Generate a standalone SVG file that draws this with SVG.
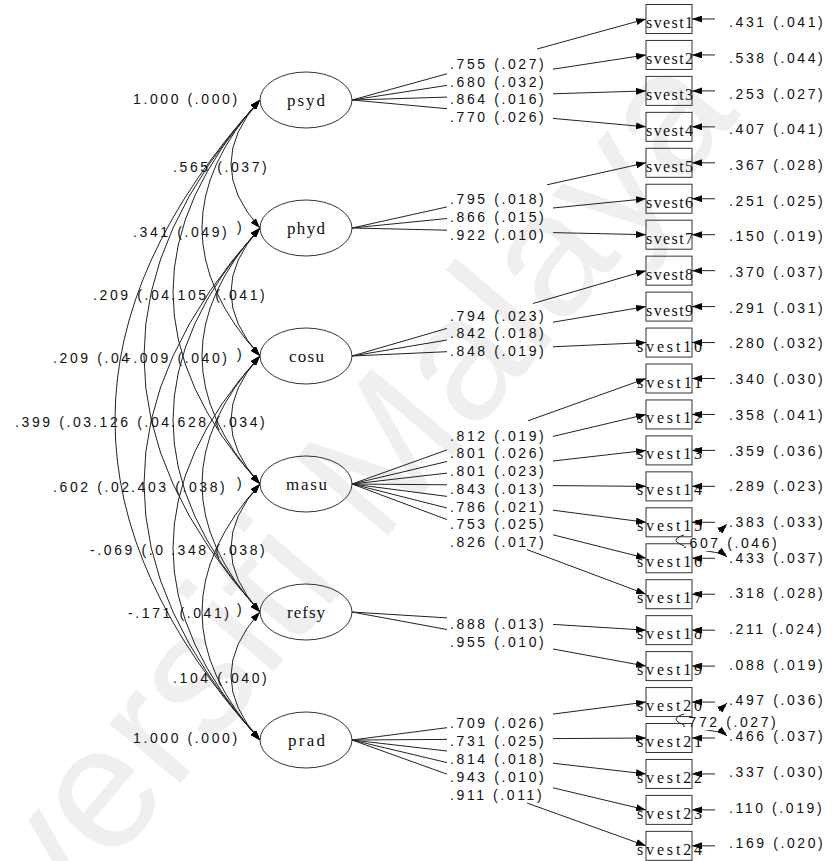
<svg xmlns="http://www.w3.org/2000/svg" width="834" height="861" viewBox="0 0 834 861">
<style>
.n{font-family:"Liberation Sans",Arial,sans-serif;font-size:14px;letter-spacing:2.6px;fill:#111}
.v{font-family:"Liberation Serif","Times New Roman",serif;font-size:16px;fill:#111}
.f{font-family:"Liberation Serif","Times New Roman",serif;font-size:17px;fill:#111}
.b{fill:none;stroke:#333;stroke-width:1}
.el{fill:none;stroke:#333;stroke-width:1}
.e{fill:none;stroke:#222;stroke-width:1}
.a{marker-end:url(#ah)}
.aa{marker-start:url(#ah);marker-end:url(#ah)}
.wm{font-family:"Liberation Sans",Arial,sans-serif;font-size:175px;fill:#efefef}
</style>
<defs>
<marker id="ah" viewBox="0 0 10 7" refX="10" refY="3.5" markerWidth="10" markerHeight="7" markerUnits="userSpaceOnUse" orient="auto-start-reverse"><path d="M0,0 L10,3.5 L0,7 z" fill="#000"/></marker>
</defs>
<rect width="834" height="861" fill="#fff"/>
<text class="wm" transform="translate(-115,1135) rotate(-50)">Universiti Malaya</text>

<g id="connectors">
<g id="covariances" class="e">
<path class="aa" d="M260,100 Q202,164 260,228"/>
<path class="aa" d="M260,100 Q144,228 260,356"/>
<path class="aa" d="M260,100 Q86,292 260,484"/>
<path class="aa" d="M260,100 Q28,356 260,612"/>
<path class="aa" d="M260,100 Q-30,420 260,740"/>
<path class="aa" d="M260,228 Q202,292 260,356"/>
<path class="aa" d="M260,228 Q144,356 260,484"/>
<path class="aa" d="M260,228 Q86,420 260,612"/>
<path class="aa" d="M260,228 Q28,484 260,740"/>
<path class="aa" d="M260,356 Q202,420 260,484"/>
<path class="aa" d="M260,356 Q144,484 260,612"/>
<path class="aa" d="M260,356 Q86,548 260,740"/>
<path class="aa" d="M260,484 Q202,548 260,612"/>
<path class="aa" d="M260,484 Q144,612 260,740"/>
<path class="aa" d="M260,612 Q202,676 260,740"/>
</g>
<g id="loadings" class="e">
<path d="M352,100 L447,73.8"/><path class="a" d="M537,49 L646,19"/>
<path d="M352,100 L447,85.4"/><path class="a" d="M553,69.2 L646,54.95"/>
<path d="M352,100 L447,97.1"/><path class="a" d="M553,93.8 L646,90.9"/>
<path d="M352,100 L447,108.7"/><path class="a" d="M553,118.4 L646,126.85"/>
<path d="M352,228 L447,206.9"/><path class="a" d="M547,184.8 L646,162.8"/>
<path d="M352,228 L447,218.5"/><path class="a" d="M553,208 L646,198.75"/>
<path d="M352,228 L447,230.2"/><path class="a" d="M553,232.6 L646,234.7"/>
<path d="M352,356 L447,328.4"/><path class="a" d="M533,303.5 L646,270.65"/>
<path d="M352,356 L447,340"/><path class="a" d="M553,322.2 L646,306.6"/>
<path d="M352,356 L447,351.7"/><path class="a" d="M553,346.8 L646,342.55"/>
<path d="M352,484 L447,449.9"/><path class="a" d="M528,420.8 L646,378.5"/>
<path d="M352,484 L447,461.5"/><path class="a" d="M553,436.4 L646,414.45"/>
<path d="M352,484 L447,473.1"/><path class="a" d="M553,461 L646,450.4"/>
<path d="M352,484 L447,484.8"/><path class="a" d="M553,485.6 L646,486.35"/>
<path d="M352,484 L447,496.4"/><path class="a" d="M553,510.2 L646,522.3"/>
<path d="M352,484 L447,508"/><path class="a" d="M553,534.8 L646,558.25"/>
<path d="M352,484 L447,519.6"/><path class="a" d="M527,549.6 L646,594.2"/>
<path d="M352,612 L447,617.9"/><path class="a" d="M553,624.4 L646,630.15"/>
<path d="M352,612 L447,629.5"/><path class="a" d="M553,649 L646,666.1"/>
<path d="M352,740 L447,727.7"/><path class="a" d="M553,714.1 L646,702.05"/>
<path d="M352,740 L447,739.4"/><path class="a" d="M553,738.6 L646,738"/>
<path d="M352,740 L447,751"/><path class="a" d="M553,763.2 L646,773.95"/>
<path d="M352,740 L447,762.6"/><path class="a" d="M553,787.8 L646,809.9"/>
<path d="M352,740 L447,774.2"/><path class="a" d="M527,803 L646,845.85"/>
</g>
<g id="residuals" class="e">
<path class="a" d="M715,19 H692"/>
<path class="a" d="M715,54.95 H692"/>
<path class="a" d="M715,90.9 H692"/>
<path class="a" d="M715,126.85 H692"/>
<path class="a" d="M715,162.8 H692"/>
<path class="a" d="M715,198.75 H692"/>
<path class="a" d="M715,234.7 H692"/>
<path class="a" d="M715,270.65 H692"/>
<path class="a" d="M715,306.6 H692"/>
<path class="a" d="M715,342.55 H692"/>
<path class="a" d="M715,378.5 H692"/>
<path class="a" d="M715,414.45 H692"/>
<path class="a" d="M715,450.4 H692"/>
<path class="a" d="M715,486.35 H692"/>
<path class="a" d="M715,522.3 H692"/>
<path class="a" d="M715,558.25 H692"/>
<path class="a" d="M715,594.2 H692"/>
<path class="a" d="M715,630.15 H692"/>
<path class="a" d="M715,666.1 H692"/>
<path class="a" d="M715,702.05 H692"/>
<path class="a" d="M715,738 H692"/>
<path class="a" d="M715,773.95 H692"/>
<path class="a" d="M715,809.9 H692"/>
<path class="a" d="M715,845.85 H692"/>
</g>
<g id="residual-covariances" class="e">
<path d="M726,527 Q626,540 726,554"/>
<rect x="684" y="528" width="95" height="23" fill="#fff" stroke="none"/>
<path class="a" d="M719,532 L727,524"/>
<path class="a" d="M719,550 L727,557"/>
<path d="M726,706 Q626,719 726,733"/>
<rect x="684" y="707" width="95" height="23" fill="#fff" stroke="none"/>
<path class="a" d="M719,711 L727,703"/>
<path class="a" d="M719,729 L727,736"/>
</g>
</g>

<g id="labels">
<g id="factor-labels" class="n">
<text x="133" y="104">1.000 (.000)</text>
<text x="173" y="172">.565 (.037)</text>
<text x="133" y="237">.341 (.049)</text><text x="237" y="232">)</text>
<text x="93" y="300">.209 (.04</text><text x="171" y="300">.105 (.041)</text>
<text x="53" y="363">.209 (.04</text><text x="126" y="363">-.009 (.040)</text><text x="237" y="359">)</text>
<text x="15" y="427">.399 (.03</text><text x="93" y="427">.126 (.04</text><text x="171" y="427">.628 (.034)</text>
<text x="53" y="492">.602 (.02</text><text x="131" y="492">.403 (.038)</text><text x="237" y="488">)</text>
<text x="90" y="555">-.069 (.0</text><text x="171" y="555">.348 (.038)</text>
<text x="128" y="618">-.171 (.041)</text><text x="237" y="614">)</text>
<text x="173" y="683">.104 (.040)</text>
<text x="133" y="743">1.000 (.000)</text>
</g>
<g id="loading-labels" class="n">
<text x="450" y="68.7">.755 (.027)</text>
<text x="450" y="86.5">.680 (.032)</text>
<text x="450" y="104.3">.864 (.016)</text>
<text x="450" y="122.1">.770 (.026)</text>
<text x="450" y="204.3">.795 (.018)</text>
<text x="450" y="222.1">.866 (.015)</text>
<text x="450" y="239.9">.922 (.010)</text>
<text x="450" y="320.6">.794 (.023)</text>
<text x="450" y="338.4">.842 (.018)</text>
<text x="450" y="356.2">.848 (.019)</text>
<text x="450" y="440.6">.812 (.019)</text>
<text x="450" y="458.3">.801 (.026)</text>
<text x="450" y="476.1">.801 (.023)</text>
<text x="450" y="493.8">.843 (.013)</text>
<text x="450" y="511.6">.786 (.021)</text>
<text x="450" y="529.3">.753 (.025)</text>
<text x="450" y="547.1">.826 (.017)</text>
<text x="450" y="628.9">.888 (.013)</text>
<text x="450" y="646.7">.955 (.010)</text>
<text x="450" y="728.1">.709 (.026)</text>
<text x="450" y="746.1">.731 (.025)</text>
<text x="450" y="764.1">.814 (.018)</text>
<text x="450" y="782.1">.943 (.010)</text>
<text x="450" y="800.1">.911 (.011)</text>
</g>
<g id="residual-labels" class="n">
<text x="729" y="27.1">.431 (.041)</text>
<text x="729" y="62.8">.538 (.044)</text>
<text x="729" y="98.5">.253 (.027)</text>
<text x="729" y="134.2">.407 (.041)</text>
<text x="729" y="169.9">.367 (.028)</text>
<text x="729" y="205.6">.251 (.025)</text>
<text x="729" y="241.3">.150 (.019)</text>
<text x="729" y="277">.370 (.037)</text>
<text x="729" y="312.7">.291 (.031)</text>
<text x="729" y="348.4">.280 (.032)</text>
<text x="729" y="384.1">.340 (.030)</text>
<text x="729" y="419.8">.358 (.041)</text>
<text x="729" y="455.5">.359 (.036)</text>
<text x="729" y="491.2">.289 (.023)</text>
<text x="729" y="526.9">.383 (.033)</text>
<text x="729" y="562.6">.433 (.037)</text>
<text x="729" y="598.3">.318 (.028)</text>
<text x="729" y="634">.211 (.024)</text>
<text x="729" y="669.7">.088 (.019)</text>
<text x="729" y="705.4">.497 (.036)</text>
<text x="729" y="741.1">.466 (.037)</text>
<text x="729" y="776.8">.337 (.030)</text>
<text x="729" y="812.5">.110 (.019)</text>
<text x="729" y="848.2">.169 (.020)</text>
<text x="683" y="547.6">.607 (.046)</text>
<text x="682" y="726.6">.772 (.027)</text>
</g>
</g>

<g id="psyd"><ellipse class="el" cx="306" cy="100" rx="46" ry="28"/><text class="f" x="287" y="106" textLength="38" lengthAdjust="spacing">psyd</text></g>
<g id="phyd"><ellipse class="el" cx="306" cy="228" rx="46" ry="28"/><text class="f" x="287" y="234" textLength="38" lengthAdjust="spacing">phyd</text></g>
<g id="cosu"><ellipse class="el" cx="306" cy="356" rx="46" ry="28"/><text class="f" x="289" y="362" textLength="35" lengthAdjust="spacing">cosu</text></g>
<g id="masu"><ellipse class="el" cx="306" cy="484" rx="46" ry="28"/><text class="f" x="286" y="490" textLength="41" lengthAdjust="spacing">masu</text></g>
<g id="refsy"><ellipse class="el" cx="306" cy="612" rx="46" ry="28"/><text class="f" x="287" y="618" textLength="38" lengthAdjust="spacing">refsy</text></g>
<g id="prad"><ellipse class="el" cx="306" cy="740" rx="46" ry="28"/><text class="f" x="288" y="746" textLength="37" lengthAdjust="spacing">prad</text></g>

<g id="svest1"><rect class="b" x="646" y="4.5" width="46" height="29"/><text class="v" x="646" y="28" textLength="47" lengthAdjust="spacing">svest1</text></g>
<g id="svest2"><rect class="b" x="646" y="40.45" width="46" height="29"/><text class="v" x="646" y="63.95" textLength="47" lengthAdjust="spacing">svest2</text></g>
<g id="svest3"><rect class="b" x="646" y="76.4" width="46" height="29"/><text class="v" x="646" y="99.9" textLength="47" lengthAdjust="spacing">svest3</text></g>
<g id="svest4"><rect class="b" x="646" y="112.35" width="46" height="29"/><text class="v" x="646" y="135.85" textLength="47" lengthAdjust="spacing">svest4</text></g>
<g id="svest5"><rect class="b" x="646" y="148.3" width="46" height="29"/><text class="v" x="646" y="171.8" textLength="47" lengthAdjust="spacing">svest5</text></g>
<g id="svest6"><rect class="b" x="646" y="184.25" width="46" height="29"/><text class="v" x="646" y="207.75" textLength="47" lengthAdjust="spacing">svest6</text></g>
<g id="svest7"><rect class="b" x="646" y="220.2" width="46" height="29"/><text class="v" x="646" y="243.7" textLength="47" lengthAdjust="spacing">svest7</text></g>
<g id="svest8"><rect class="b" x="646" y="256.15" width="46" height="29"/><text class="v" x="646" y="279.65" textLength="47" lengthAdjust="spacing">svest8</text></g>
<g id="svest9"><rect class="b" x="646" y="292.1" width="46" height="29"/><text class="v" x="646" y="315.6" textLength="47" lengthAdjust="spacing">svest9</text></g>
<g id="svest10"><rect class="b" x="646" y="328.05" width="46" height="29"/><text class="v" x="637" y="351.55" textLength="65" lengthAdjust="spacing">svest10</text></g>
<g id="svest11"><rect class="b" x="646" y="364" width="46" height="29"/><text class="v" x="637" y="387.5" textLength="65" lengthAdjust="spacing">svest11</text></g>
<g id="svest12"><rect class="b" x="646" y="399.95" width="46" height="29"/><text class="v" x="637" y="423.45" textLength="65" lengthAdjust="spacing">svest12</text></g>
<g id="svest13"><rect class="b" x="646" y="435.9" width="46" height="29"/><text class="v" x="637" y="459.4" textLength="65" lengthAdjust="spacing">svest13</text></g>
<g id="svest14"><rect class="b" x="646" y="471.85" width="46" height="29"/><text class="v" x="637" y="495.35" textLength="65" lengthAdjust="spacing">svest14</text></g>
<g id="svest15"><rect class="b" x="646" y="507.8" width="46" height="29"/><text class="v" x="637" y="531.3" textLength="65" lengthAdjust="spacing">svest15</text></g>
<g id="svest16"><rect class="b" x="646" y="543.75" width="46" height="29"/><text class="v" x="637" y="567.25" textLength="65" lengthAdjust="spacing">svest16</text></g>
<g id="svest17"><rect class="b" x="646" y="579.7" width="46" height="29"/><text class="v" x="637" y="603.2" textLength="65" lengthAdjust="spacing">svest17</text></g>
<g id="svest18"><rect class="b" x="646" y="615.65" width="46" height="29"/><text class="v" x="637" y="639.15" textLength="65" lengthAdjust="spacing">svest18</text></g>
<g id="svest19"><rect class="b" x="646" y="651.6" width="46" height="29"/><text class="v" x="637" y="675.1" textLength="65" lengthAdjust="spacing">svest19</text></g>
<g id="svest20"><rect class="b" x="646" y="687.55" width="46" height="29"/><text class="v" x="637" y="711.05" textLength="65" lengthAdjust="spacing">svest20</text></g>
<g id="svest21"><rect class="b" x="646" y="723.5" width="46" height="29"/><text class="v" x="637" y="747" textLength="65" lengthAdjust="spacing">svest21</text></g>
<g id="svest22"><rect class="b" x="646" y="759.45" width="46" height="29"/><text class="v" x="637" y="782.95" textLength="65" lengthAdjust="spacing">svest22</text></g>
<g id="svest23"><rect class="b" x="646" y="795.4" width="46" height="29"/><text class="v" x="637" y="818.9" textLength="65" lengthAdjust="spacing">svest23</text></g>
<g id="svest24"><rect class="b" x="646" y="831.35" width="46" height="29"/><text class="v" x="637" y="854.85" textLength="65" lengthAdjust="spacing">svest24</text></g>
</svg>
